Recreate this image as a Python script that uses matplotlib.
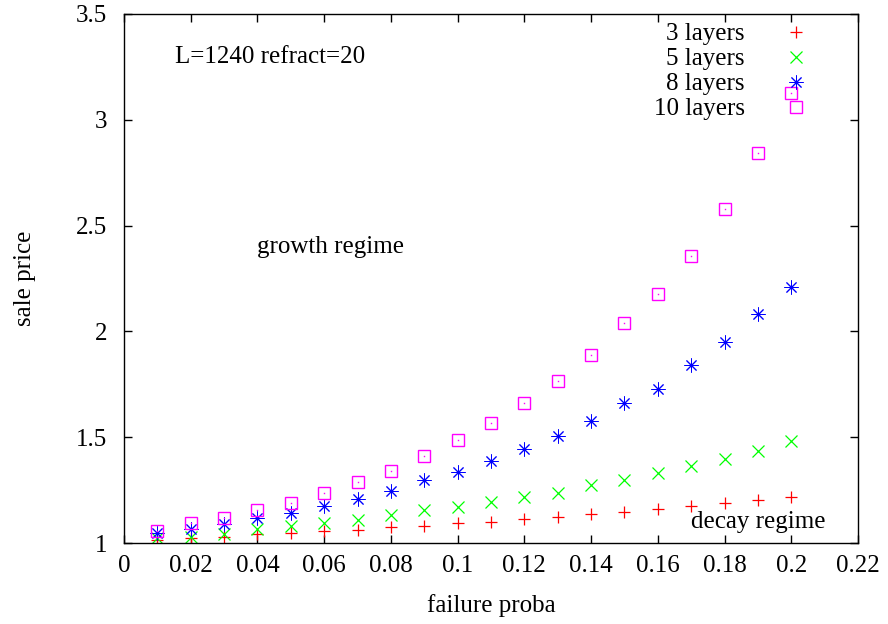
import numpy as np
import matplotlib.pyplot as plt
from matplotlib.ticker import FuncFormatter

plt.rcParams['font.family'] = ['Liberation Serif', 'DejaVu Serif']
plt.rcParams['font.size'] = 18

# data
proba = [0.01, 0.02, 0.03, 0.04, 0.05, 0.06, 0.07, 0.08, 0.09, 0.10,
         0.11, 0.12, 0.13, 0.14, 0.15, 0.16, 0.17, 0.18, 0.19, 0.20]
layers3 = [1.014, 1.022, 1.030, 1.043, 1.047, 1.055, 1.063, 1.076, 1.082, 1.095,
           1.101, 1.113, 1.124, 1.137, 1.148, 1.162, 1.175, 1.188, 1.203, 1.217]
layers5 = [1.024, 1.027, 1.043, 1.065, 1.082, 1.095, 1.110, 1.131, 1.155, 1.169,
           1.194, 1.216, 1.238, 1.273, 1.298, 1.329, 1.365, 1.396, 1.433, 1.480]
layers8 = [1.046, 1.066, 1.090, 1.117, 1.143, 1.175, 1.210, 1.247, 1.298, 1.336,
           1.388, 1.443, 1.504, 1.575, 1.660, 1.726, 1.840, 1.948, 2.080, 2.208]
layers10 = [1.057, 1.095, 1.118, 1.156, 1.190, 1.236, 1.288, 1.340, 1.410, 1.487,
            1.567, 1.660, 1.766, 1.888, 2.040, 2.177, 2.356, 2.578, 2.843, 3.127]

fig = plt.figure(figsize=(8.88, 6.24), dpi=100)
ax = fig.add_axes([124 / 888, 1 - 543 / 624, (858 - 124) / 888, (543 - 14) / 624])

ax.plot(proba, layers3, ls='none', marker='+', ms=9, mew=0.9, color='#ff0000', label='3 layers')
ax.plot(proba, layers5, ls='none', marker='x', ms=8, mew=0.9, color='#00ff00', label='5 layers')
ax.plot(proba, layers8, ls='none', marker=(8, 2, 0), ms=10, mew=0.7, color='#0000ff', label='8 layers')
ax.plot(proba, layers10, ls='none', marker='s', ms=8, mew=1, mfc='none',
        color='#ff00ff', label='10 layers')
ax.plot(proba, layers10, ls='none', marker='s', ms=1, mew=0, color='#ff00ff')

ax.set_xlim(0, 0.22)
ax.set_ylim(1, 3.5)
ax.set_xticks(np.arange(0, 0.2201, 0.02))
ax.set_yticks(np.arange(1, 3.501, 0.5))
ax.xaxis.set_major_formatter(FuncFormatter(lambda v, p: f'{v:g}'))
ax.yaxis.set_major_formatter(FuncFormatter(lambda v, p: f'{v:g}'))
ax.tick_params(direction='in', top=True, right=True, length=6, width=1)
ax.tick_params(axis='x', pad=9)
ax.tick_params(axis='y', pad=12)
for s in ax.spines.values():
    s.set_linewidth(1)

ax.set_xlabel('failure proba', labelpad=12)
ax.set_ylabel('sale price', labelpad=29)

ax.text(0.0153, 3.297, 'L=1240 refract=20', va='center', ha='left')
ax.text(0.04, 2.40, 'growth regime', va='center', ha='left')
ax.text(0.17, 1.10, 'decay regime', va='center', ha='left')

ax.legend(loc='upper right', frameon=False, markerfirst=False, handlelength=1.0,
          handletextpad=1.55, labelspacing=0.1, borderpad=0.4, borderaxespad=0,
          bbox_to_anchor=(0.946, 1.002))

fig.savefig('out.png', dpi=100)
